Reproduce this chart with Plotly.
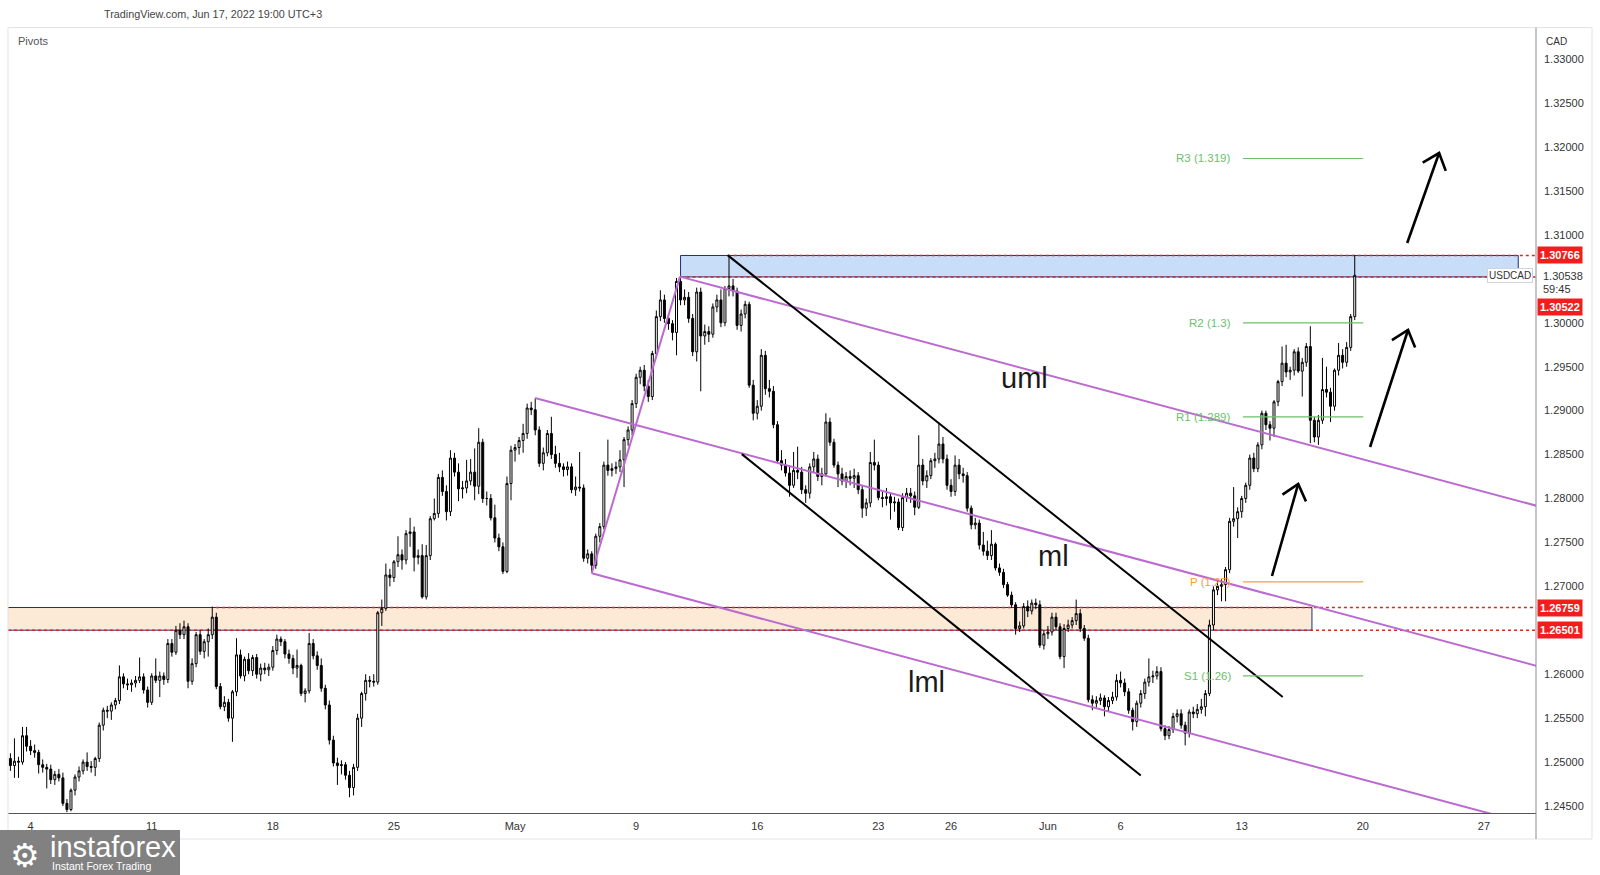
import math
import plotly.graph_objects as go

# ---------------- DATA (USDCAD, 4H candles) ----------------
FIRST_BAR = -5          # bar 0 = Mon Apr 4 00:00 (UTC+3); 6 bars per trading day
BARS_PER_DAY = 6

open_ = [
    1.2504, 1.2496, 1.2501, 1.2500, 1.2530,                      # Apr 1 (tail)
    1.2518, 1.2513, 1.2511, 1.2497, 1.2494, 1.2492,              # Apr 4
    1.2480, 1.2486, 1.2482, 1.2453, 1.2446, 1.2468,              # Apr 5
    1.2483, 1.2490, 1.2500, 1.2495, 1.2494, 1.2504,              # Apr 6
    1.2542, 1.2559, 1.2558, 1.2565, 1.2570, 1.2597,              # Apr 7
    1.2589, 1.2588, 1.2590, 1.2593, 1.2597, 1.2582,              # Apr 8
    1.2568, 1.2598, 1.2593, 1.2598, 1.2594, 1.2635,              # Apr 11
    1.2625, 1.2650, 1.2645, 1.2654, 1.2592, 1.2612,              # Apr 12
    1.2645, 1.2626, 1.2637, 1.2645, 1.2665, 1.2586,              # Apr 13
    1.2563, 1.2568, 1.2550, 1.2580, 1.2622, 1.2598,              # Apr 14
    1.2617, 1.2604, 1.2619, 1.2600, 1.2607, 1.2605,              # Apr 15
    1.2608, 1.2627, 1.2640, 1.2637, 1.2623, 1.2618,              # Apr 18
    1.2607, 1.2610, 1.2578, 1.2581, 1.2635, 1.2621,              # Apr 19
    1.2610, 1.2584, 1.2565, 1.2525, 1.2499, 1.2496,              # Apr 20
    1.2497, 1.2485, 1.2471, 1.2494, 1.2550, 1.2578,              # Apr 21
    1.2593, 1.2592, 1.2591, 1.2670, 1.2675, 1.2713,              # Apr 22
    1.2710, 1.2728, 1.2736, 1.2730, 1.2760, 1.2762,              # Apr 25
    1.2733, 1.2735, 1.2688, 1.2735, 1.2777, 1.2783,              # Apr 26
    1.2824, 1.2808, 1.2785, 1.2846, 1.2830, 1.2811,              # Apr 27
    1.2812, 1.2820, 1.2830, 1.2814, 1.2864, 1.2800,              # Apr 28
    1.2800, 1.2778, 1.2755, 1.2745, 1.2717, 1.2817,              # Apr 29
    1.2855, 1.2858, 1.2866, 1.2874, 1.2903, 1.2901,              # May 2
    1.2878, 1.2840, 1.2852, 1.2874, 1.2850, 1.2840,              # May 3
    1.2836, 1.2833, 1.2836, 1.2810, 1.2813, 1.2812,              # May 4
    1.2732, 1.2737, 1.2724, 1.2757, 1.2768, 1.2838,              # May 5
    1.2832, 1.2834, 1.2836, 1.2844, 1.2867, 1.2878,              # May 6
    1.2908, 1.2938, 1.2946, 1.2928, 1.2916, 1.2965,              # May 9
    1.3007, 1.3026, 1.3005, 1.2999, 1.2989, 1.3047,              # May 10
    1.3026, 1.3029, 1.3005, 1.2967, 1.3035, 1.2985,              # May 11
    1.2990, 1.2987, 1.3018, 1.3026, 1.3000, 1.3039,              # May 12
    1.3042, 1.3036, 1.2997, 1.3010, 1.3021, 1.2929,              # May 13
    1.2897, 1.2905, 1.2963, 1.2925, 1.2922, 1.2884,              # May 16
    1.2843, 1.2838, 1.2829, 1.2815, 1.2832, 1.2830,              # May 17
    1.2810, 1.2806, 1.2836, 1.2845, 1.2825, 1.2828,              # May 18
    1.2887, 1.2864, 1.2838, 1.2828, 1.2820, 1.2825,              # May 19
    1.2823, 1.2826, 1.2810, 1.2789, 1.2795, 1.2841,              # May 20
    1.2838, 1.2801, 1.2800, 1.2802, 1.2795, 1.2796,              # May 23
    1.2767, 1.2801, 1.2806, 1.2803, 1.2790, 1.2838,              # May 24
    1.2820, 1.2826, 1.2843, 1.2845, 1.2862, 1.2845,              # May 25
    1.2815, 1.2808, 1.2838, 1.2828, 1.2826, 1.2789,              # May 26
    1.2770, 1.2772, 1.2747, 1.2740, 1.2735, 1.2748,              # May 27
    1.2721, 1.2716, 1.2702, 1.2690, 1.2679, 1.2652,              # May 30
    1.2655, 1.2677, 1.2672, 1.2681, 1.2679, 1.2633,              # May 31
    1.2646, 1.2648, 1.2665, 1.2654, 1.2620, 1.2652,              # Jun 1
    1.2656, 1.2661, 1.2669, 1.2652, 1.2641, 1.2571,              # Jun 2
    1.2567, 1.2570, 1.2573, 1.2563, 1.2570, 1.2574,              # Jun 3
    1.2593, 1.2590, 1.2580, 1.2559, 1.2546, 1.2567,              # Jun 6
    1.2578, 1.2591, 1.2597, 1.2598, 1.2603, 1.2538,              # Jun 7
    1.2530, 1.2537, 1.2552, 1.2555, 1.2542, 1.2533,              # Jun 8
    1.2557, 1.2555, 1.2560, 1.2563, 1.2578, 1.2656,              # Jun 9
    1.2696, 1.2700, 1.2702, 1.2719, 1.2774, 1.2777,              # Jun 10
    1.2785, 1.2800, 1.2815, 1.2846, 1.2834, 1.2861,              # Jun 13
    1.2897, 1.2884, 1.2880, 1.2910, 1.2933, 1.2954,              # Jun 14
    1.2944, 1.2946, 1.2967, 1.2945, 1.2955, 1.2973,              # Jun 15
    1.2889, 1.2870, 1.2889, 1.2924, 1.2921, 1.2905,              # Jun 16
    1.2946, 1.2963, 1.2955, 1.2972, 1.3007,                      # Jun 17
]
high = [
    1.2510, 1.2527, 1.2506, 1.2540, 1.2540,
    1.2525, 1.2520, 1.2514, 1.2503, 1.2498, 1.2497,
    1.2490, 1.2492, 1.2488, 1.2458, 1.2470, 1.2486,
    1.2495, 1.2503, 1.2511, 1.2501, 1.2506, 1.2545,
    1.2562, 1.2564, 1.2568, 1.2573, 1.2610, 1.2601,
    1.2595, 1.2594, 1.2598, 1.2619, 1.2601, 1.2586,
    1.2601, 1.2618, 1.2603, 1.2602, 1.2640, 1.2640,
    1.2655, 1.2658, 1.2661, 1.2658, 1.2618, 1.2648,
    1.2650, 1.2640, 1.2652, 1.2677, 1.2670, 1.2590,
    1.2575, 1.2572, 1.2582, 1.2641, 1.2628, 1.2620,
    1.2624, 1.2622, 1.2623, 1.2612, 1.2613, 1.2612,
    1.2632, 1.2645, 1.2643, 1.2640, 1.2628, 1.2622,
    1.2628, 1.2612, 1.2584, 1.2647, 1.2640, 1.2626,
    1.2618, 1.2588, 1.2570, 1.2530, 1.2505, 1.2502,
    1.2500, 1.2490, 1.2498, 1.2555, 1.2580, 1.2600,
    1.2598, 1.2600, 1.2672, 1.2685, 1.2726, 1.2720,
    1.2730, 1.2757, 1.2742, 1.2764, 1.2778, 1.2768,
    1.2742, 1.2748, 1.2747, 1.2780, 1.2800, 1.2828,
    1.2832, 1.2815, 1.2855, 1.2852, 1.2840, 1.2820,
    1.2844, 1.2845, 1.2857, 1.2880, 1.2868, 1.2808,
    1.2805, 1.2793, 1.2760, 1.2750, 1.2825, 1.2860,
    1.2862, 1.2870, 1.2885, 1.2908, 1.2910, 1.2914,
    1.2882, 1.2858, 1.2878, 1.2893, 1.2860, 1.2852,
    1.2840, 1.2842, 1.2840, 1.2825, 1.2853, 1.2816,
    1.2742, 1.2740, 1.2760, 1.2772, 1.2842, 1.2867,
    1.2840, 1.2842, 1.2855, 1.2870, 1.2882, 1.2912,
    1.2942, 1.2950, 1.2952, 1.2935, 1.2968, 1.3014,
    1.3037, 1.3032, 1.3010, 1.3003, 1.3051, 1.3052,
    1.3038, 1.3035, 1.3010, 1.3040, 1.3040, 1.2998,
    1.2996, 1.3022, 1.3032, 1.3038, 1.3042, 1.3077,
    1.3050, 1.3040, 1.3015, 1.3025, 1.3024, 1.2935,
    1.2912, 1.2970, 1.2968, 1.2935, 1.2928, 1.2888,
    1.2855, 1.2845, 1.2838, 1.2853, 1.2859, 1.2836,
    1.2815, 1.2840, 1.2853, 1.2850, 1.2835, 1.2897,
    1.2892, 1.2868, 1.2842, 1.2835, 1.2830, 1.2832,
    1.2834, 1.2830, 1.2815, 1.2800, 1.2853, 1.2867,
    1.2842, 1.2808, 1.2812, 1.2806, 1.2802, 1.2800,
    1.2806, 1.2812, 1.2812, 1.2808, 1.2872, 1.2845,
    1.2832, 1.2846, 1.2852, 1.2885, 1.2870, 1.2850,
    1.2822, 1.2849, 1.2845, 1.2835, 1.2830, 1.2792,
    1.2778, 1.2776, 1.2762, 1.2752, 1.2764, 1.2750,
    1.2726, 1.2720, 1.2705, 1.2694, 1.2682, 1.2660,
    1.2681, 1.2684, 1.2685, 1.2686, 1.2684, 1.2650,
    1.2655, 1.2670, 1.2670, 1.2658, 1.2657, 1.2662,
    1.2665, 1.2685, 1.2674, 1.2656, 1.2645, 1.2576,
    1.2575, 1.2578, 1.2576, 1.2574, 1.2580, 1.2600,
    1.2603, 1.2595, 1.2584, 1.2562, 1.2570, 1.2582,
    1.2595, 1.2618, 1.2604, 1.2609, 1.2608, 1.2542,
    1.2541, 1.2556, 1.2560, 1.2560, 1.2546, 1.2560,
    1.2563, 1.2566, 1.2572, 1.2582, 1.2662, 1.2700,
    1.2706, 1.2708, 1.2722, 1.2778, 1.2813, 1.2790,
    1.2803, 1.2818, 1.2850, 1.2852, 1.2864, 1.2900,
    1.2900, 1.2888, 1.2912, 1.2935, 1.2973, 1.2975,
    1.2950, 1.2970, 1.2972, 1.2960, 1.2977, 1.2996,
    1.2893, 1.2895, 1.2960, 1.2950, 1.2926, 1.2948,
    1.2977, 1.2970, 1.2978, 1.3010, 1.3077,
]
low = [
    1.2490, 1.2482, 1.2482, 1.2497, 1.2512,
    1.2508, 1.2505, 1.2487, 1.2488, 1.2470, 1.2475,
    1.2474, 1.2478, 1.2450, 1.2443, 1.2444, 1.2462,
    1.2478, 1.2486, 1.2490, 1.2488, 1.2484, 1.2500,
    1.2536, 1.2550, 1.2548, 1.2560, 1.2566, 1.2584,
    1.2582, 1.2580, 1.2585, 1.2590, 1.2578, 1.2562,
    1.2565, 1.2590, 1.2574, 1.2588, 1.2590, 1.2620,
    1.2622, 1.2640, 1.2640, 1.2584, 1.2588, 1.2608,
    1.2622, 1.2618, 1.2620, 1.2640, 1.2583, 1.2560,
    1.2558, 1.2546, 1.2523, 1.2575, 1.2595, 1.2592,
    1.2600, 1.2598, 1.2595, 1.2592, 1.2600, 1.2598,
    1.2604, 1.2622, 1.2632, 1.2618, 1.2612, 1.2600,
    1.2596, 1.2575, 1.2568, 1.2578, 1.2617, 1.2605,
    1.2580, 1.2560, 1.2520, 1.2495, 1.2474, 1.2486,
    1.2480, 1.2460, 1.2462, 1.2490, 1.2540, 1.2570,
    1.2585, 1.2586, 1.2588, 1.2655, 1.2672, 1.2700,
    1.2705, 1.2722, 1.2719, 1.2725, 1.2745, 1.2717,
    1.2725, 1.2686, 1.2685, 1.2730, 1.2775, 1.2778,
    1.2803, 1.2775, 1.2780, 1.2825, 1.2797, 1.2800,
    1.2806, 1.2815, 1.2798, 1.2805, 1.2795, 1.2792,
    1.2775, 1.2750, 1.2740, 1.2714, 1.2715, 1.2798,
    1.2842, 1.2850, 1.2852, 1.2868, 1.2895, 1.2872,
    1.2836, 1.2832, 1.2848, 1.2845, 1.2835, 1.2830,
    1.2825, 1.2826, 1.2806, 1.2803, 1.2808, 1.2728,
    1.2726, 1.2715, 1.2720, 1.2750, 1.2765, 1.2826,
    1.2825, 1.2828, 1.2830, 1.2813, 1.2860, 1.2872,
    1.2903, 1.2930, 1.2922, 1.2910, 1.2912, 1.2960,
    1.3002, 1.3000, 1.2992, 1.2980, 1.2963, 1.3020,
    1.3020, 1.3000, 1.2962, 1.2956, 1.2922, 1.2975,
    1.2978, 1.2983, 1.3012, 1.2995, 1.2996, 1.3030,
    1.3030, 1.2992, 1.2990, 1.3005, 1.2926, 1.2889,
    1.2890, 1.2900, 1.2918, 1.2915, 1.2880, 1.2840,
    1.2832, 1.2825, 1.2802, 1.2812, 1.2822, 1.2805,
    1.2795, 1.2800, 1.2830, 1.2820, 1.2815, 1.2825,
    1.2860, 1.2835, 1.2813, 1.2815, 1.2812, 1.2815,
    1.2812, 1.2805, 1.2778, 1.2780, 1.2790, 1.2832,
    1.2798, 1.2790, 1.2792, 1.2776, 1.2785, 1.2764,
    1.2763, 1.2796, 1.2795, 1.2781, 1.2788, 1.2815,
    1.2812, 1.2822, 1.2835, 1.2840, 1.2840, 1.2810,
    1.2802, 1.2803, 1.2822, 1.2818, 1.2785, 1.2765,
    1.2765, 1.2742, 1.2735, 1.2730, 1.2730, 1.2718,
    1.2712, 1.2698, 1.2688, 1.2676, 1.2645, 1.2648,
    1.2652, 1.2665, 1.2668, 1.2674, 1.2630, 1.2628,
    1.2640, 1.2644, 1.2650, 1.2617, 1.2607, 1.2648,
    1.2652, 1.2656, 1.2648, 1.2638, 1.2568, 1.2559,
    1.2562, 1.2565, 1.2552, 1.2558, 1.2566, 1.2570,
    1.2585, 1.2575, 1.2555, 1.2536, 1.2540, 1.2562,
    1.2572, 1.2586, 1.2590, 1.2594, 1.2535, 1.2525,
    1.2526, 1.2533, 1.2545, 1.2538, 1.2519, 1.2528,
    1.2550, 1.2550, 1.2555, 1.2552, 1.2575, 1.2650,
    1.2690, 1.2683, 1.2683, 1.2715, 1.2768, 1.2755,
    1.2778, 1.2795, 1.2810, 1.2830, 1.2830, 1.2856,
    1.2878, 1.2866, 1.2870, 1.2905, 1.2928, 1.2938,
    1.2935, 1.2940, 1.2943, 1.2916, 1.2950, 1.2863,
    1.2864, 1.2861, 1.2885, 1.2915, 1.2887, 1.2900,
    1.2940, 1.2948, 1.2950, 1.2968, 1.3003,
]
close = [
    1.2496, 1.2501, 1.2500, 1.2530, 1.2518,
    1.2513, 1.2511, 1.2497, 1.2494, 1.2492, 1.2480,
    1.2486, 1.2482, 1.2453, 1.2446, 1.2468, 1.2483,
    1.2490, 1.2500, 1.2495, 1.2494, 1.2504, 1.2542,
    1.2559, 1.2558, 1.2565, 1.2570, 1.2597, 1.2589,
    1.2588, 1.2590, 1.2593, 1.2597, 1.2582, 1.2568,
    1.2598, 1.2593, 1.2598, 1.2594, 1.2635, 1.2625,
    1.2650, 1.2645, 1.2654, 1.2592, 1.2612, 1.2645,
    1.2626, 1.2637, 1.2645, 1.2665, 1.2586, 1.2563,
    1.2568, 1.2550, 1.2580, 1.2622, 1.2598, 1.2617,
    1.2604, 1.2619, 1.2600, 1.2607, 1.2605, 1.2608,
    1.2627, 1.2640, 1.2637, 1.2623, 1.2618, 1.2607,
    1.2610, 1.2578, 1.2581, 1.2635, 1.2621, 1.2610,
    1.2584, 1.2565, 1.2525, 1.2499, 1.2496, 1.2497,
    1.2485, 1.2471, 1.2494, 1.2550, 1.2578, 1.2593,
    1.2592, 1.2591, 1.2670, 1.2675, 1.2713, 1.2710,
    1.2728, 1.2736, 1.2730, 1.2760, 1.2762, 1.2733,
    1.2735, 1.2688, 1.2735, 1.2777, 1.2783, 1.2824,
    1.2808, 1.2785, 1.2846, 1.2830, 1.2811, 1.2812,
    1.2820, 1.2830, 1.2814, 1.2864, 1.2800, 1.2800,
    1.2778, 1.2755, 1.2745, 1.2717, 1.2817, 1.2855,
    1.2858, 1.2866, 1.2874, 1.2903, 1.2901, 1.2878,
    1.2840, 1.2852, 1.2874, 1.2850, 1.2840, 1.2836,
    1.2833, 1.2836, 1.2810, 1.2813, 1.2812, 1.2732,
    1.2737, 1.2724, 1.2757, 1.2768, 1.2838, 1.2832,
    1.2834, 1.2836, 1.2844, 1.2867, 1.2878, 1.2908,
    1.2938, 1.2946, 1.2928, 1.2916, 1.2965, 1.3007,
    1.3026, 1.3005, 1.2999, 1.2989, 1.3047, 1.3026,
    1.3029, 1.3005, 1.2967, 1.3035, 1.2985, 1.2990,
    1.2987, 1.3018, 1.3026, 1.3000, 1.3039, 1.3042,
    1.3036, 1.2997, 1.3010, 1.3021, 1.2929, 1.2897,
    1.2905, 1.2963, 1.2925, 1.2922, 1.2884, 1.2843,
    1.2838, 1.2829, 1.2815, 1.2832, 1.2830, 1.2810,
    1.2806, 1.2836, 1.2845, 1.2825, 1.2828, 1.2887,
    1.2864, 1.2838, 1.2828, 1.2820, 1.2825, 1.2823,
    1.2826, 1.2810, 1.2789, 1.2795, 1.2841, 1.2838,
    1.2801, 1.2800, 1.2802, 1.2795, 1.2796, 1.2767,
    1.2801, 1.2806, 1.2803, 1.2790, 1.2838, 1.2820,
    1.2826, 1.2843, 1.2845, 1.2862, 1.2845, 1.2815,
    1.2808, 1.2838, 1.2828, 1.2826, 1.2789, 1.2770,
    1.2772, 1.2747, 1.2740, 1.2735, 1.2748, 1.2721,
    1.2716, 1.2702, 1.2690, 1.2679, 1.2652, 1.2655,
    1.2677, 1.2672, 1.2681, 1.2679, 1.2633, 1.2646,
    1.2648, 1.2665, 1.2654, 1.2620, 1.2652, 1.2656,
    1.2661, 1.2669, 1.2652, 1.2641, 1.2571, 1.2567,
    1.2570, 1.2573, 1.2563, 1.2570, 1.2574, 1.2593,
    1.2590, 1.2580, 1.2559, 1.2546, 1.2567, 1.2578,
    1.2591, 1.2597, 1.2598, 1.2603, 1.2538, 1.2530,
    1.2537, 1.2552, 1.2555, 1.2542, 1.2533, 1.2557,
    1.2555, 1.2560, 1.2563, 1.2578, 1.2656, 1.2696,
    1.2700, 1.2702, 1.2719, 1.2774, 1.2777, 1.2785,
    1.2800, 1.2815, 1.2846, 1.2834, 1.2861, 1.2897,
    1.2884, 1.2880, 1.2910, 1.2933, 1.2954, 1.2944,
    1.2946, 1.2967, 1.2945, 1.2955, 1.2973, 1.2889,
    1.2870, 1.2889, 1.2924, 1.2921, 1.2905, 1.2946,
    1.2963, 1.2955, 1.2972, 1.3007, 1.3054,
]

# time axis labels (trading-day number from Apr 4, label)
tick_day = [0, 5, 10, 15, 20, 25, 30, 35, 38, 42, 45, 50, 55, 60]
tick_text = ["4", "11", "18", "25", "May", "9", "16", "23", "26", "Jun", "6", "13", "20", "27"]

# price scale
price_ticks = [1.245, 1.250, 1.255, 1.260, 1.270, 1.275, 1.280, 1.285,
               1.290, 1.295, 1.300, 1.310, 1.315, 1.320, 1.325, 1.330]

# horizontal zones / rays: (price, starting bar)
blue_zone = (1.30522, 1.30766)
orange_zone = (1.26501, 1.26759)
ray_levels = [1.30766, 1.30522, 1.26759, 1.26501]
ray_start_bar = [172.7, 161.0, 45.9, None]
blue_zone_bars = (161.0, 368.5)
orange_zone_bars = (None, 317.4)

# weekly pivots (Jun 13 - Jun 17)
pivot_levels = [1.3187, 1.3000, 1.2893, 1.2705, 1.2598]
pivot_labels = ["R3 (1.319)", "R2 (1.3)", "R1 (1.289)", "P (1.27)", "S1 (1.26)"]
pivot_bars = (300.3, 330.1)

# Andrews' pitchfork anchor points (bar, price)
pf_p1 = (124.95, 1.29144)
pf_p2 = (160.86, 1.30525)
pf_p3 = (139.0, 1.27149)

# descending channel trendlines (bar, price)
trend_upper = [(172.65, 1.30770), (310.16, 1.25741)]
trend_lower = [(176.17, 1.28505), (275.0, 1.24847)]

# arrows (tail, tip) in (bar, price)
arrows = [((307.5, 1.27118), (314.0, 1.28165)),
          ((331.8, 1.28586), (341.2, 1.29918)),
          ((341.0, 1.30908), (348.9, 1.31932))]

# text labels on the pitchfork
fork_labels = [("uml", 246.2, 1.29370), ("ml", 253.3, 1.27345), ("lml", 221.9, 1.25908)]

last_price = 1.30538

# ---------------- LAYOUT GEOMETRY ----------------
W, H = 1600, 875
ML, MR, MT, MB = 8, 64, 28, 62
PW, PH = W - ML - MR, H - MT - MB
X0, X1 = -5.598, 372.9
Y0, Y1 = 1.244204, 1.333551
PX_BAR = PW / (X1 - X0)
PX_PRICE = PH / (Y1 - Y0)


def paper(xpx, ypx):
    return (xpx - ML) / PW, (H - MB - ypx) / PH


x_idx = list(range(FIRST_BAR, FIRST_BAR + len(close)))

fig = go.Figure()

fig.add_trace(go.Candlestick(
    x=x_idx, open=open_, high=high, low=low, close=close,
    increasing=dict(line=dict(color="#000000", width=1), fillcolor="#ffffff"),
    decreasing=dict(line=dict(color="#000000", width=1), fillcolor="#000000"),
    whiskerwidth=0, hoverinfo="skip", showlegend=False,
))


def line_trace(xs, ys, color, width, dash="solid"):
    fig.add_trace(go.Scatter(x=xs, y=ys, mode="lines",
                             line=dict(color=color, width=width, dash=dash),
                             hoverinfo="skip", showlegend=False))


# pitchfork
PURPLE = "#bb6bd0"
mid = ((pf_p2[0] + pf_p3[0]) / 2, (pf_p2[1] + pf_p3[1]) / 2)
dbar, dprice = mid[0] - pf_p1[0], mid[1] - pf_p1[1]
slope = dprice / dbar
for p in (pf_p1, pf_p2, pf_p3):
    line_trace([p[0], X1 + 2], [p[1], p[1] + slope * (X1 + 2 - p[0])], PURPLE, 2)
line_trace([pf_p3[0], pf_p2[0]], [pf_p3[1], pf_p2[1]], PURPLE, 2)

# channel trendlines
for seg in (trend_upper, trend_lower):
    line_trace([seg[0][0], seg[1][0]], [seg[0][1], seg[1][1]], "#000000", 2)

# pivot lines
for lvl, lab in zip(pivot_levels, pivot_labels):
    col = "#f5a037" if lab.startswith("P ") else "#6cbf6c"
    line_trace([pivot_bars[0], pivot_bars[1]], [lvl, lvl], col, 1.2)

# arrows with open V heads
for tail, tip in arrows:
    line_trace([tail[0], tip[0]], [tail[1], tip[1]], "#000000", 2.6)
    dx = (tail[0] - tip[0]) * PX_BAR
    dy = (tail[1] - tip[1]) * PX_PRICE
    ln = math.hypot(dx, dy)
    ux, uy = dx / ln, dy / ln
    wx, wy = [], []
    for ang in (math.radians(40), 0, math.radians(-40)):
        if ang == 0:
            wx.append(tip[0]); wy.append(tip[1]); continue
        rx = ux * math.cos(ang) - uy * math.sin(ang)
        ry = ux * math.sin(ang) + uy * math.cos(ang)
        wx.append(tip[0] + 19 * rx / PX_BAR)
        wy.append(tip[1] + 19 * ry / PX_PRICE)
    line_trace(wx, wy, "#000000", 2.6)

shapes = []
NAVY = "#1f2d7a"
RED = "#e02424"
# zones
shapes.append(dict(type="rect", xref="x", yref="y", layer="below",
                   x0=blue_zone_bars[0], x1=blue_zone_bars[1],
                   y0=blue_zone[0], y1=blue_zone[1],
                   fillcolor="#c8ddf8", line=dict(color=NAVY, width=1)))
shapes.append(dict(type="rect", xref="x", yref="y", layer="below",
                   x0=X0 - 1, x1=orange_zone_bars[1],
                   y0=orange_zone[0], y1=orange_zone[1],
                   fillcolor="#fdead6", line=dict(color=NAVY, width=1)))
# dotted rays
for lvl, start in zip(ray_levels, ray_start_bar):
    shapes.append(dict(type="line", xref="x", yref="y", layer="below",
                       x0=(X0 if start is None else start), x1=X1, y0=lvl, y1=lvl,
                       line=dict(color=RED, width=1.5, dash="dot")))

# frame lines (pixel based)
FRAME = "#e0e3eb"
fx0, fy_top = paper(8, 27.5)
fx1, fy_bot = paper(1592, 839)
shapes += [
    dict(type="line", xref="paper", yref="paper", x0=fx0, x1=fx1, y0=fy_top, y1=fy_top, line=dict(color=FRAME, width=1)),
    dict(type="line", xref="paper", yref="paper", x0=fx0, x1=fx1, y0=fy_bot, y1=fy_bot, line=dict(color=FRAME, width=1)),
    dict(type="line", xref="paper", yref="paper", x0=fx0, x1=fx0, y0=fy_bot, y1=fy_top, line=dict(color=FRAME, width=1)),
    dict(type="line", xref="paper", yref="paper", x0=fx1, x1=fx1, y0=fy_bot, y1=fy_top, line=dict(color=FRAME, width=1)),
    dict(type="line", xref="paper", yref="paper", x0=1, x1=1, y0=fy_bot, y1=fy_top, line=dict(color="#8a8d96", width=1)),
]
# instaforex badge
lx0, ly0 = paper(0, 875)
lx1, ly1 = paper(180, 830)
shapes.append(dict(type="rect", xref="paper", yref="paper", x0=lx0, x1=lx1, y0=ly0, y1=ly1,
                   fillcolor="rgba(122,122,122,0.95)", line=dict(width=0)))

annotations = []
FONT = "Liberation Sans, Arial, sans-serif"


def paper_text(xpx, ypx, text, size, color, family=FONT, xanchor="center", **kw):
    px, py = paper(xpx, ypx)
    annotations.append(dict(x=px, y=py, xref="paper", yref="paper", text=text, showarrow=False,
                            xanchor=xanchor, yanchor="middle",
                            font=dict(family=family, size=size, color=color), **kw))


# pitchfork labels
for txt, bx, py in fork_labels:
    annotations.append(dict(x=bx, y=py, xref="x", yref="y", text=txt, showarrow=False,
                            xanchor="center", yanchor="middle",
                            font=dict(family=FONT, size=29, color="#1a1a1a")))
# pivot labels
for lvl, lab in zip(pivot_levels, pivot_labels):
    col = "#f5a037" if lab.startswith("P ") else "#6cbf6c"
    annotations.append(dict(x=pivot_bars[0], y=lvl, xref="x", yref="y", text=lab,
                            xanchor="right", yanchor="middle", xshift=-10, showarrow=False,
                            font=dict(family=FONT, size=11.5, color=col)))

# red price labels on the scale
for lvl, shift in zip(ray_levels, [0, -30, 0, 0]):
    annotations.append(dict(x=1, y=lvl, xref="paper", yref="y", xanchor="left", yanchor="middle",
                            xshift=1, yshift=shift, text="<b>%.5f</b>" % lvl, showarrow=False,
                            bgcolor="#f21e1e", borderpad=2,
                            font=dict(family=FONT, size=11, color="#ffffff")))
annotations.append(dict(x=1, y=last_price, xref="paper", yref="y", xanchor="left", yanchor="middle",
                        xshift=5, text="%.5f" % last_price, showarrow=False,
                        font=dict(family=FONT, size=11, color="#333333")))
annotations.append(dict(x=1, y=last_price, xref="paper", yref="y", xanchor="left", yanchor="middle",
                        xshift=5, yshift=-13, text="59:45", showarrow=False,
                        font=dict(family=FONT, size=11, color="#333333")))
annotations.append(dict(x=1, y=last_price, xref="paper", yref="y", xanchor="right", yanchor="middle",
                        xshift=-3, text="USDCAD", showarrow=False, bgcolor="#ffffff",
                        bordercolor="#d0d3da", borderwidth=1, borderpad=1,
                        font=dict(family=FONT, size=10, color="#333333")))
paper_text(1544, 41, "CAD", 10, "#333333", xanchor="left")

# header texts
paper_text(213, 14, "TradingView.com, Jun 17, 2022 19:00 UTC+3", 10.8, "#444444")
paper_text(16, 41, "Pivots", 11, "#555555", xanchor="left")

# badge texts
paper_text(25, 855, "\u2699", 33, "#ffffff", family="DejaVu Sans")
paper_text(48, 847, "instaforex", 29, "#ffffff", xanchor="left")
paper_text(50, 866, "Instant Forex Trading", 10.5, "#ffffff", xanchor="left")

fig.update_layout(
    width=W, height=H,
    margin=dict(l=ML, r=MR, t=MT, b=MB),
    paper_bgcolor="#ffffff", plot_bgcolor="#ffffff",
    shapes=shapes, annotations=annotations, showlegend=False,
    xaxis=dict(range=[X0, X1], rangeslider=dict(visible=False), showgrid=False, zeroline=False,
               tickvals=[d * BARS_PER_DAY for d in tick_day], ticktext=tick_text,
               ticks="", ticklabelstandoff=3, showline=True, linecolor="#555555", linewidth=1,
               tickfont=dict(family=FONT, size=11, color="#333333"), fixedrange=True),
    yaxis=dict(range=[Y0, Y1], side="right", showgrid=False, zeroline=False,
               tickvals=price_ticks, tickformat=".5f", ticks="", ticklabelstandoff=7,
               showline=False, tickfont=dict(family=FONT, size=11, color="#333333"), fixedrange=True),
)

fig.write_html("out.html")
